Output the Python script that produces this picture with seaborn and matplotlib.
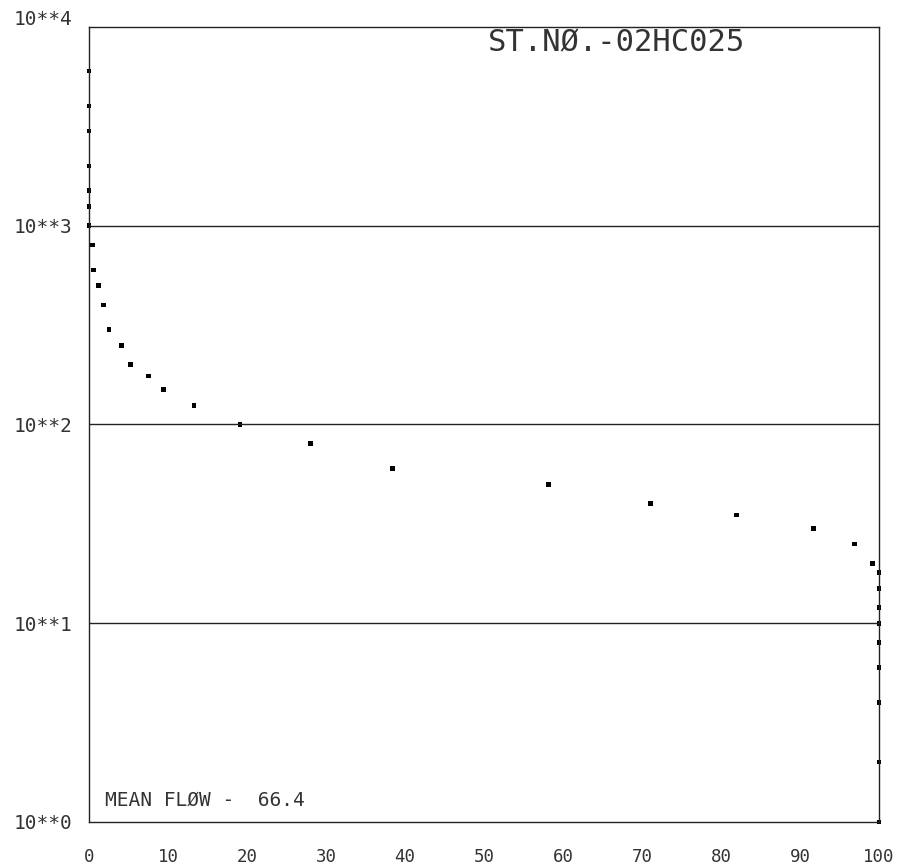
import numpy as np
import pandas as pd
import matplotlib
matplotlib.use("Agg")
import matplotlib.pyplot as plt
import matplotlib.transforms as mtransforms
import seaborn as sns

# percent of time flow exceeded vs flow
pct_exceeded = [0, 0, 0, 0, 0, 0, 0,
                0.42, 0.54, 1.23, 1.81, 2.53, 4.14, 5.23, 7.5, 9.46, 13.3,
                19.1, 28.0, 38.4, 58.2, 71.1, 82.0, 91.7, 96.9, 99.15,
                100, 100, 100, 100, 100, 100, 100, 100, 100]
flow = [6000, 4000, 3000, 2000, 1500, 1250, 1000,
        800, 600, 500, 400, 300, 250, 200, 175, 150, 125,
        100, 80, 60, 50, 40, 35, 30, 25, 20,
        18, 15, 12, 10, 8, 6, 4, 2, 1]

x_ticks = [0, 10, 20, 30, 40, 50, 60, 70, 80, 90, 100]
y_ticks = [1, 10, 100, 1000, 10000]
y_labels = ["10**0", "10**1", "10**2", "10**3", "10**4"]
station = "ST.NØ.-02HC025"
mean_flow = "MEAN FLØW -  66.4"

df = pd.DataFrame({"pct": pct_exceeded, "flow": flow})

sns.set_style("white")
plt.rcParams['font.family'] = ['DejaVu Sans Mono', 'DejaVu Sans']

fig = plt.figure(figsize=(9.16, 8.68), dpi=100)
ax = fig.add_axes([0.0972, 0.053, 0.8624, 0.9159])

sns.scatterplot(data=df, x="pct", y="flow", ax=ax, marker="s", s=11,
                color="black", edgecolor="none", clip_on=False, legend=False)

ax.set_yscale("log")
ax.set_xlim(0, 100)
ax.set_ylim(1, 10000)

for v in [10, 100, 1000]:
    ax.axhline(v, color="#222222", lw=1.0, zorder=1)

ax.set_xticks(x_ticks)
ax.set_xticklabels([str(t) for t in x_ticks], fontsize=12.5, color="#333333")
ax.set_yticks(y_ticks)
ax.set_yticklabels(y_labels, fontsize=14, color="#333333")
ax.yaxis.set_minor_locator(matplotlib.ticker.NullLocator())
ax.tick_params(axis="x", length=2, width=1.2, pad=17, color="#222222")
ax.tick_params(axis="y", length=0, pad=12)

# top label sits a little above the frame in the reference
top_lab = ax.get_yticklabels()[-1]
top_lab.set_transform(top_lab.get_transform() +
                      mtransforms.ScaledTranslation(0, 0.09, fig.dpi_scale_trans))

for s in ax.spines.values():
    s.set_color("#222222")
    s.set_linewidth(1.0)

ax.set_xlabel("")
ax.set_ylabel("")

ax.text(0.668, 0.98, station, transform=ax.transAxes, fontsize=22,
        ha="center", va="center", color="#333333")
ax.text(0.02, 0.027, mean_flow, transform=ax.transAxes, fontsize=14,
        ha="left", va="center", color="#333333")

fig.savefig("out.png", dpi=100, facecolor="white")
